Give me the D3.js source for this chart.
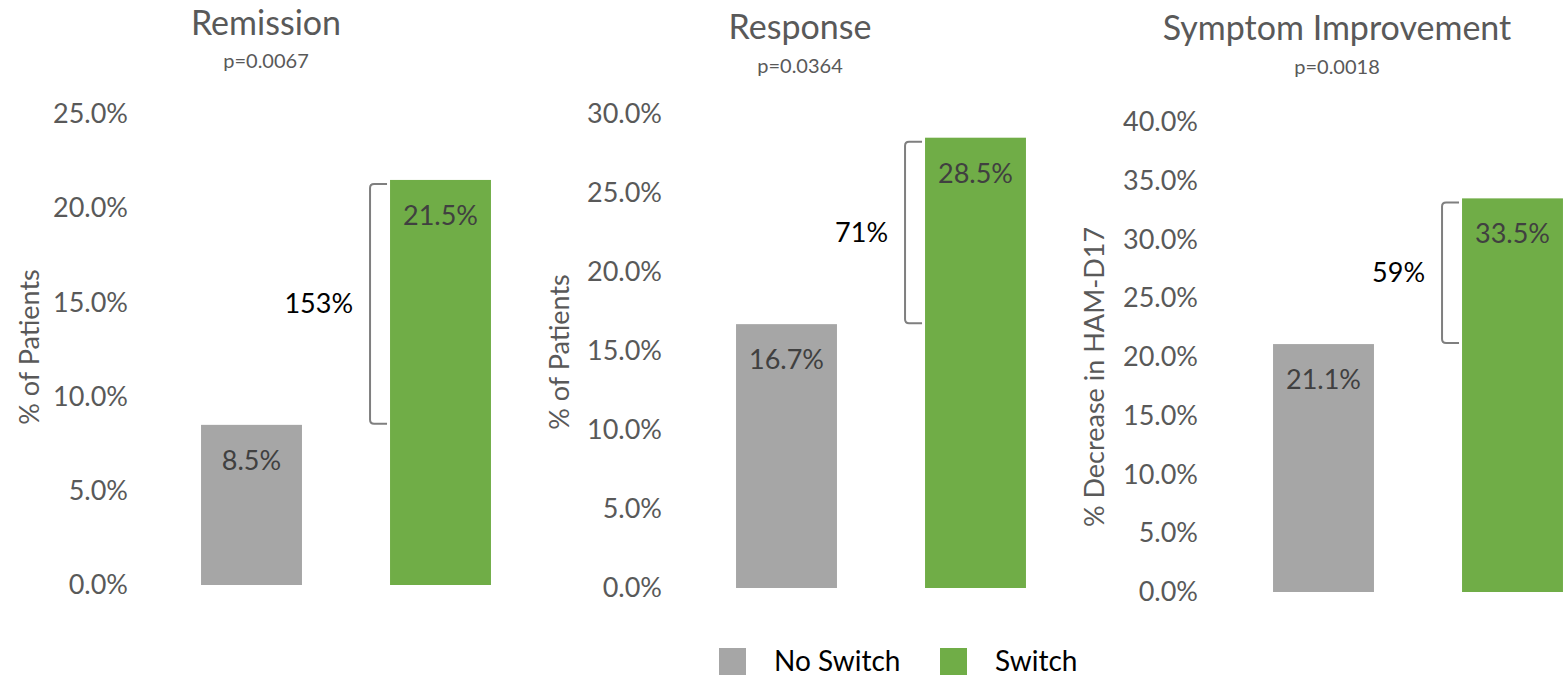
<!DOCTYPE html>
<html>
<head>
<meta charset="utf-8">
<script src="https://cdn.jsdelivr.net/npm/d3@7"></script>
<style>
  body { margin: 0; background: #fff; }
  svg { display: block; font-family: Lato, "Open Sans", sans-serif; }
</style>
</head>
<body>
<svg id="chart" width="1566" height="679"></svg>
<script>
// chart values
const panelTitles = ["Remission", "Response", "Symptom Improvement"];
const pValues = ["p=0.0067", "p=0.0364", "p=0.0018"];
const yTitles = ["% of Patients", "% of Patients", "% Decrease in HAM-D17"];
const series = ["No Switch", "Switch"];
const noSwitchValues = [8.5, 16.7, 21.1];
const switchValues = [21.5, 28.5, 33.5];
const changeLabels = ["153%", "71%", "59%"];
const yMaxValues = [25, 30, 40];

// layout of each panel (pixels)
const layout = [
  { y0: 585, y1: 114, labelRight: 128, x0: 157, x1: 535, titleX: 266, titleY: 35, pY: 68, yTitleX: 30, yTitleY: 347 },
  { y0: 588, y1: 114, labelRight: 662, x0: 692, x1: 1070, titleX: 800, titleY: 39, pY: 73, yTitleX: 560, yTitleY: 352 },
  { y0: 592, y1: 122, labelRight: 1198, x0: 1229, x1: 1607, titleX: 1337, titleY: 40, pY: 74, yTitleX: 1095, yTitleY: 377 }
];

const colors = { "No Switch": "#a6a6a6", "Switch": "#70ad47" };

const svg = d3.select("#chart");

panelTitles.forEach((title, i) => {
  const L = layout[i];
  const g = svg.append("g").attr("class", "panel");

  const y = d3.scaleLinear().domain([0, yMaxValues[i]]).range([L.y0, L.y1]);
  const x = d3.scaleBand().domain(series).range([L.x0, L.x1])
    .paddingInner(0.466).paddingOuter(0.233);

  // y axis, labels only
  const ticks = d3.range(0, yMaxValues[i] + 0.1, 5);
  const yAxis = g.append("g")
    .attr("transform", `translate(${L.labelRight},0)`)
    .call(d3.axisLeft(y).tickValues(ticks).tickSize(0).tickPadding(0)
      .tickFormat(d => d3.format(".1f")(d) + "%"));
  yAxis.select(".domain").remove();
  yAxis.selectAll("text")
    .style("font-family", "Lato, sans-serif")
    .style("font-size", "27px")
    .style("fill", "#595959");

  // titles
  g.append("text")
    .attr("x", L.titleX).attr("y", L.titleY)
    .attr("text-anchor", "middle")
    .style("font-size", "34px").style("fill", "#595959")
    .text(title);
  g.append("text")
    .attr("x", L.titleX).attr("y", L.pY)
    .attr("text-anchor", "middle")
    .style("font-size", "20px").style("fill", "#595959")
    .text(pValues[i]);

  g.append("text")
    .attr("transform", `translate(${L.yTitleX},${L.yTitleY}) rotate(-90)`)
    .attr("text-anchor", "middle")
    .attr("dy", "0.35em")
    .style("font-size", "27px").style("fill", "#595959")
    .text(yTitles[i]);

  // bars
  const vals = [noSwitchValues[i], switchValues[i]];
  const bars = series.map((s, k) => ({ s: s, v: vals[k] }));
  g.selectAll(".bar")
    .data(bars)
    .enter().append("rect")
    .attr("class", "bar")
    .attr("x", d => x(d.s))
    .attr("y", d => y(d.v))
    .attr("width", x.bandwidth())
    .attr("height", d => y(0) - y(d.v))
    .style("fill", d => colors[d.s]);

  g.selectAll(".barlabel")
    .data(bars)
    .enter().append("text")
    .attr("class", "barlabel")
    .attr("x", d => x(d.s) + x.bandwidth() / 2)
    .attr("y", d => y(d.v) + 45)
    .attr("text-anchor", "middle")
    .style("font-size", "27px").style("fill", "#404040")
    .text(d => d.v.toFixed(1) + "%");

  // bracket between the two values
  const bx = x("Switch") - 20;
  const armX = x("Switch") - 3;
  const top = y(switchValues[i]) + 4;
  const bot = y(noSwitchValues[i]) - 1;
  g.append("path")
    .attr("d", `M${armX},${top} L${bx + 4},${top} Q${bx},${top} ${bx},${top + 4} L${bx},${bot - 4} Q${bx},${bot} ${bx + 4},${bot} L${armX},${bot}`)
    .style("fill", "none")
    .style("stroke", "#7f7f7f")
    .style("stroke-width", 2);

  g.append("text")
    .attr("x", bx - 17)
    .attr("y", (top + bot) / 2)
    .attr("dy", "0.35em")
    .attr("text-anchor", "end")
    .style("font-size", "27px").style("fill", "#000")
    .text(changeLabels[i]);
});

// legend
const legendX = [719, 940];
const legend = svg.append("g").attr("class", "legend");
series.forEach((s, k) => {
  legend.append("rect")
    .attr("x", legendX[k]).attr("y", 648)
    .attr("width", 27).attr("height", 27)
    .style("fill", colors[s]);
  legend.append("text")
    .attr("x", legendX[k] + 55).attr("y", 671)
    .style("font-size", "28px").style("fill", "#000")
    .text(s);
});
</script>
</body>
</html>
